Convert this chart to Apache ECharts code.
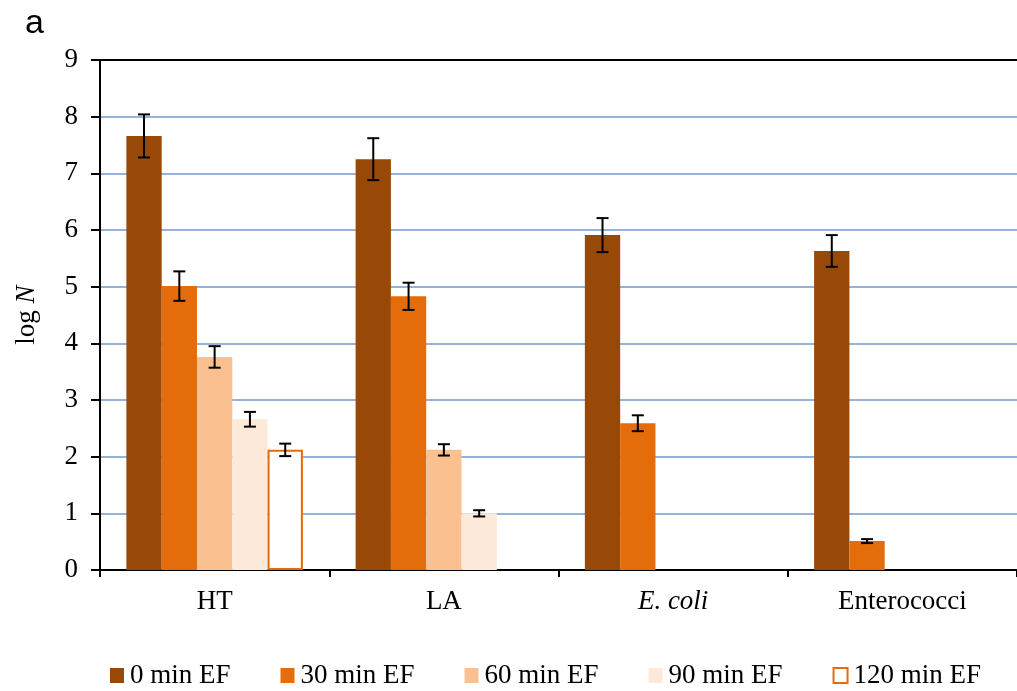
<!DOCTYPE html>
<html><head><meta charset="utf-8">
<script src="https://cdn.jsdelivr.net/npm/echarts@6/dist/echarts.min.js"></script>
<style>html,body{margin:0;padding:0;background:#fff}#c{width:1017px;height:691px}</style>
</head><body><div id="c"></div>
<script>
const categories = ['HT', 'LA', 'E. coli', 'Enterococci'];
const seriesNames = ['0 min EF', '30 min EF', '60 min EF', '90 min EF', '120 min EF'];
const v0 = [7.66, 7.25, 5.91, 5.63];
const v30 = [5.01, 4.83, 2.59, 0.51];
const v60 = [3.76, 2.12, null, null];
const v90 = [2.66, 1.00, null, null];
const v120 = [2.12, null, null, null];
const e0 = [0.38, 0.37, 0.30, 0.28];
const e30 = [0.26, 0.24, 0.14, 0.035];
const e60 = [0.19, 0.10, null, null];
const e90 = [0.13, 0.055, null, null];
const e120 = [0.11, null, null, null];
const yTicks = [0, 1, 2, 3, 4, 5, 6, 7, 8, 9];

const values = [v0, v30, v60, v90, v120];
const errors = [e0, e30, e60, e90, e120];
const colors = ['#984807', '#E46C0A', '#FAC090', '#FDE9D9', '#FFFFFF'];
const borders = ['#984807', '#E46C0A', '#FAC090', '#FDE9D9', '#E46C0A'];
const GAP = 0.23;
const FONT = '"Liberation Serif", "Times New Roman", serif';

const series = [];
values.forEach((vals, i) => {
  series.push({
    name: seriesNames[i], type: 'bar', data: vals,
    barGap: '0%', barCategoryGap: (GAP * 100) + '%',
    itemStyle: { color: colors[i], borderColor: borders[i], borderWidth: i === 4 ? 2 : 0 },
    xAxisIndex: 0, yAxisIndex: 0, z: 2
  });
});
values.forEach((vals, i) => {
  const data = [];
  vals.forEach((v, k) => { if (v != null) data.push([k, v - errors[i][k], v + errors[i][k]]); });
  series.push({
    type: 'custom', name: 'err' + i, silent: true, z: 5,
    renderItem: function (params, api) {
      const k = api.value(0);
      const lo = api.coord([k, api.value(1)]);
      const hi = api.coord([k, api.value(2)]);
      const band = api.size([1, 0])[0];
      const bw = band * (1 - GAP) / 5;
      const x = lo[0] + (i - 2) * bw;
      const cap = 6;
      const st = { stroke: '#000', lineWidth: 2 };
      return { type: 'group', children: [
        { type: 'line', shape: { x1: x, y1: lo[1], x2: x, y2: hi[1] }, style: st },
        { type: 'line', shape: { x1: x - cap, y1: lo[1], x2: x + cap, y2: lo[1] }, style: st },
        { type: 'line', shape: { x1: x - cap, y1: hi[1], x2: x + cap, y2: hi[1] }, style: st }
      ]};
    },
    encode: { x: 0, y: [1, 2] },
    data: data
  });
});

const chart = echarts.init(document.getElementById('c'), null, { renderer: 'canvas' });
chart.setOption({
  backgroundColor: '#fff',
  animation: false,
  title: { text: 'a', left: 20, top: 2, textStyle: { fontFamily: '"Liberation Sans", Arial, sans-serif', fontSize: 34, fontWeight: 'normal', color: '#000' } },
  grid: { left: 100, right: 0, top: 60, bottom: 121 },
  legend: {
    data: seriesNames, top: 657, left: 105, itemWidth: 14, itemHeight: 15, itemGap: 50,
    icon: 'rect',
    textStyle: { fontFamily: FONT, fontSize: 27, color: '#000', padding: [0, 0, 0, 1] }
  },
  xAxis: [{
    type: 'category', data: categories, boundaryGap: true,
    axisLine: { lineStyle: { color: '#000', width: 2 } },
    axisTick: { show: true, alignWithLabel: false, length: 7, lineStyle: { color: '#000', width: 2 }, interval: 0 },
    axisLabel: {
      margin: 18, fontFamily: FONT, fontSize: 27, color: '#000',
      formatter: function (v) { return v === 'E. coli' ? '{i|' + v + '}' : v; },
      rich: { i: { fontStyle: 'italic', fontFamily: FONT, fontSize: 27, color: '#000' } }
    }
  }, {
    type: 'category', data: categories, position: 'top',
    axisLine: { show: true, lineStyle: { color: '#000', width: 2 } },
    axisTick: { show: false }, axisLabel: { show: false }
  }],
  yAxis: {
    type: 'value', min: 0, max: 9, interval: 1,
    name: '{n|log }{i|N}', nameLocation: 'middle', nameGap: 60, nameRotate: 90,
    nameTextStyle: { rich: {
      n: { fontFamily: FONT, fontSize: 27, color: '#000' },
      i: { fontFamily: FONT, fontSize: 27, color: '#000', fontStyle: 'italic' } } },
    axisLine: { show: true, lineStyle: { color: '#000', width: 2 } },
    axisTick: { show: true, length: 9, lineStyle: { color: '#000', width: 2 } },
    axisLabel: { margin: 22, fontFamily: FONT, fontSize: 27, color: '#000',
      formatter: function (v) { return yTicks.indexOf(v) >= 0 ? String(v) : ''; } },
    splitLine: { show: true, lineStyle: { color: '#95B3D7', width: 2 } }
  },
  series: series
});
</script></body></html>
